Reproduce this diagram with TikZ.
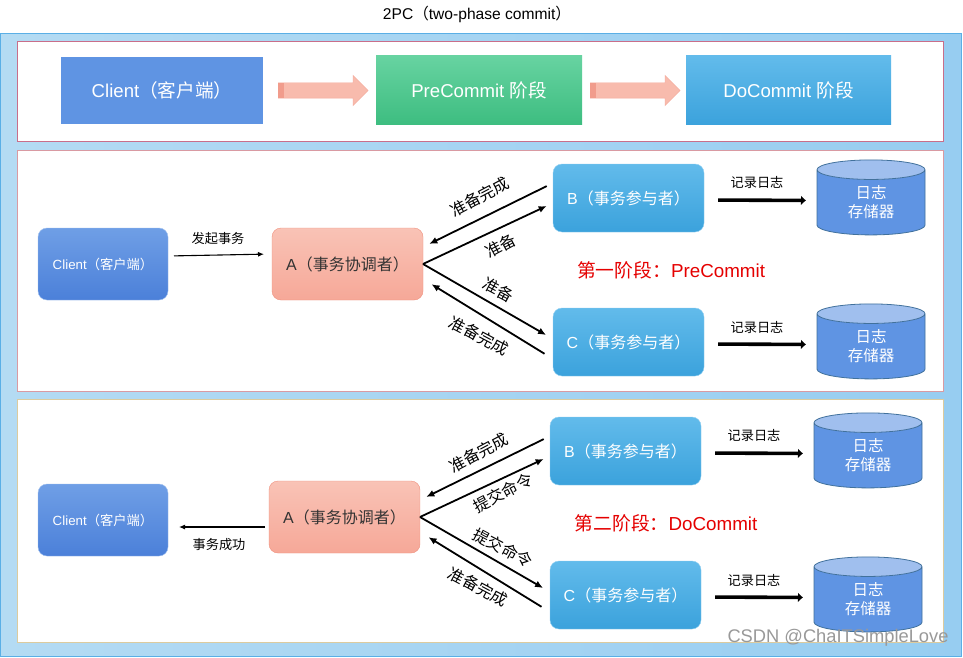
\documentclass[tikz,border=0pt]{standalone}
\usepackage{fontspec}
\setmainfont{Liberation Sans}
\newfontfamily\cjk{Noto Sans CJK SC}
\usepackage{tikz}
\usetikzlibrary{calc,positioning,shapes.geometric,shapes.arrows,arrows.meta}
\definecolor{panelLeft}{HTML}{B4DBF3}
\definecolor{panelRight}{HTML}{97CDF1}
\definecolor{panelEdge}{HTML}{5AAFE6}
\definecolor{clientFill}{HTML}{5F94E3}
\definecolor{clientBot}{HTML}{4B80D9}
\definecolor{greenTop}{HTML}{67D3A1}
\definecolor{greenBot}{HTML}{3DBD80}
\definecolor{blueTop}{HTML}{62BBEB}
\definecolor{blueBot}{HTML}{3BA2DC}
\definecolor{salmonTop}{HTML}{F9C3B6}
\definecolor{salmonBot}{HTML}{F6A898}
\definecolor{salmonEdge}{HTML}{F0917F}
\definecolor{stormEdge}{HTML}{41719C}
\definecolor{stormTop}{HTML}{A0BFEE}
\definecolor{bandPink}{HTML}{C96E8A}
\definecolor{bandRose}{HTML}{D99AA2}
\definecolor{bandTan}{HTML}{DCCB9E}
\newcommand{\zh}[1]{{\cjk #1}}
\newcommand{\fsize}[1]{\fontsize{#1}{18}\selectfont}
\tikzset{
 tpc panel/.style={draw,fill=white,anchor=north west,inner sep=0pt,outer sep=0pt,line width=.9pt},
 tpc head/.style={anchor=north west,inner sep=0pt,outer sep=0pt,text=white,font=\fsize{18.6}},
 tpc box/.style={anchor=north west,rounded corners=9pt,inner sep=0pt,outer sep=0pt,
                 minimum width=151pt,minimum height=68pt,text=white,font=\fsize{16}},
 tpc client/.style={tpc box,minimum width=130pt,minimum height=72pt,top color=clientFill!90!white,
                    bottom color=clientBot,draw=clientFill!60!white,font=\fsize{13.3}},
 tpc part/.style={tpc box,top color=blueTop,bottom color=blueBot,draw=blueTop!70!white},
 tpc coord/.style={tpc box,minimum height=72pt,top color=salmonTop,bottom color=salmonBot,
                   draw=salmonEdge,text=black!80},
 tpc store/.style={cylinder,shape border rotate=90,aspect=.42,draw=stormEdge,line width=.8pt,
                   cylinder uses custom fill,cylinder body fill=clientFill,cylinder end fill=stormTop,
                   minimum width=108pt,minimum height=75pt,inner sep=0pt,outer sep=0pt,
                   text=white,align=center,font=\fsize{15.5}},
 tpc block/.style={single arrow,anchor=tail,fill=salmonTop!70!salmonBot,draw=salmonEdge!80!white,
                   single arrow tip angle=90,single arrow head extend=7.5pt,inner sep=0pt,
                   text height=15pt,text depth=0pt,text width=1pt,minimum height=90pt},
 tpc flow/.style={-{Latex[length=8pt,width=7pt]},line width=1.8pt},
 tpc log/.style={-{Latex[length=5pt,width=10pt]},line width=3.6pt},
 tpc thin/.style={-{Latex[length=6pt,width=5pt]},line width=1.1pt},
 tpc note/.style={inner sep=0pt,font=\fsize{13.2}},
 tpc slant/.style={inner sep=0pt,font=\fsize{16}},
 tpc phase/.style={inner sep=0pt,text=red!90!black,font=\fsize{18.8}}
}
\begin{document}
\begin{tikzpicture}[x=1pt,y=-1pt]
 \useasboundingbox (0,0) rectangle (963,658);
 \node[inner sep=0pt,font=\fsize{15.6}] (title) at (477,14) {2PC\zh{（}two-phase commit\zh{）}};

 % backdrop and the three white bands
 \node[anchor=north west,inner sep=0pt,outer sep=0pt,draw=panelEdge,line width=1pt,left color=panelLeft,
       right color=panelRight,minimum width=961pt,minimum height=623pt] (back) at (.5,33.5) {};
 \node[tpc panel,draw=bandPink,minimum width=926pt,minimum height=100pt] (band1) at (17,41) {};
 \node[tpc panel,draw=bandRose,minimum width=926pt,minimum height=241pt] (band2) at (17,150) {};
 \node[tpc panel,draw=bandTan,minimum width=926pt,minimum height=243pt] (band3) at (17,399) {};

 % header strip
 \node[tpc head,fill=clientFill,minimum width=202pt,minimum height=67pt] (hclient) at (61,57) {Client\zh{（客户端）}};
 \node[tpc head,top color=greenTop,bottom color=greenBot,minimum width=206pt,minimum height=69pt] (hpre) at (376,56) {PreCommit \zh{阶段}};
 \node[tpc head,top color=blueTop,bottom color=blueBot,minimum width=205pt,minimum height=69pt] (hdo) at (686,56) {DoCommit \zh{阶段}};
 \foreach \n/\x in {harrowa/278,harrowb/590} {
   \node[tpc block] (\n) at (\x,90.5) {};
   \fill[salmonEdge!90!white] (\x,83) rectangle (\x+6,98);
 }

 % the two phase rows share their participants and stores
 \foreach \r/\dx/\dy in {1/0/0,2/-3/253} {
   \node[tpc coord] (a\r) at ({272+\dx},{228+\dy}) {A\zh{（事务协调者）}};
   \node[tpc part] (b\r) at ({553+\dx},{164+\dy}) {B\zh{（事务参与者）}};
   \node[tpc part] (c\r) at ({553+\dx},{308+\dy}) {C\zh{（事务参与者）}};
   \node[tpc store] (sb\r) at ({871+\dx},{202.5+\dy}) {\zh{日志}\\[1pt]\zh{存储器}};
   \node[tpc store] (sc\r) at ({871+\dx},{346.5+\dy}) {\zh{日志}\\[1pt]\zh{存储器}};
   \draw[tpc flow,shorten >=7pt] (a\r.east)--([yshift=-5pt]b\r.west);
   \draw[tpc flow,shorten <=7pt,shorten >=7pt] ([yshift=15pt]b\r.west)--([yshift=17pt]a\r.east);
   \draw[tpc flow,shorten >=8pt] (a\r.east)--([yshift=3pt]c\r.west);
   \draw[tpc flow,shorten <=10pt,shorten >=10pt] ([yshift=-17pt]c\r.west)--([yshift=-15pt]a\r.east);
   \draw[tpc log,shorten <=14pt,shorten >=11pt] ([yshift=-2pt]b\r.east)--([yshift=2pt]sb\r.west);
   \draw[tpc log,shorten <=14pt,shorten >=11pt] ([yshift=-2pt]c\r.east)--([yshift=2pt]sc\r.west);
   \node[tpc note] (lb\r) at ({757+\dx},{182+\dy}) {\zh{记录日志}};
   \node[tpc note] (lc\r) at ({757+\dx},{327+\dy}) {\zh{记录日志}};
 }

 % first phase
 \node[tpc client] (client1) at (38,228) {Client\zh{（客户端）}};
 \draw[tpc thin,shorten <=6pt,shorten >=8pt] ([yshift=8pt]client1.east)--([yshift=10pt]a1.west);
 \node[tpc note] (start) at (218,239) {\zh{发起事务}};
 \node[tpc slant,rotate=28] (da1) at (480,197) {\zh{准备完成}};
 \node[tpc slant,rotate=-28] (dc1) at (479,336) {\zh{准备完成}};
 \node[tpc slant,rotate=28] (pb) at (501,246) {\zh{准备}};
 \node[tpc slant,rotate=-28] (pc) at (498,290) {\zh{准备}};
 \node[tpc phase] (phase1) at (671,270) {\zh{第一阶段：}PreCommit};

 % second phase
 \node[tpc client] (client2) at (38,484) {Client\zh{（客户端）}};
 \draw[tpc thin,shorten <=4pt,shorten >=11pt] ([yshift=-10pt]a2.west)--([yshift=-7pt]client2.east);
 \node[tpc note] (done) at (219,545) {\zh{事务成功}};
 \node[tpc slant,rotate=28] (da2) at (479,453) {\zh{准备完成}};
 \node[tpc slant,rotate=-28] (dc2) at (478,587) {\zh{准备完成}};
 \node[tpc slant,rotate=28] (cb) at (503,493) {\zh{提交命令}};
 \node[tpc slant,rotate=-28] (cc) at (503,548) {\zh{提交命令}};
 \node[tpc phase] (phase2) at (666,523) {\zh{第二阶段：}DoCommit};

 \node[inner sep=0pt,text=black!40,font=\fsize{18.3}] (mark) at (838,638) {CSDN @ChaITSimpleLove};
\end{tikzpicture}
\end{document}
